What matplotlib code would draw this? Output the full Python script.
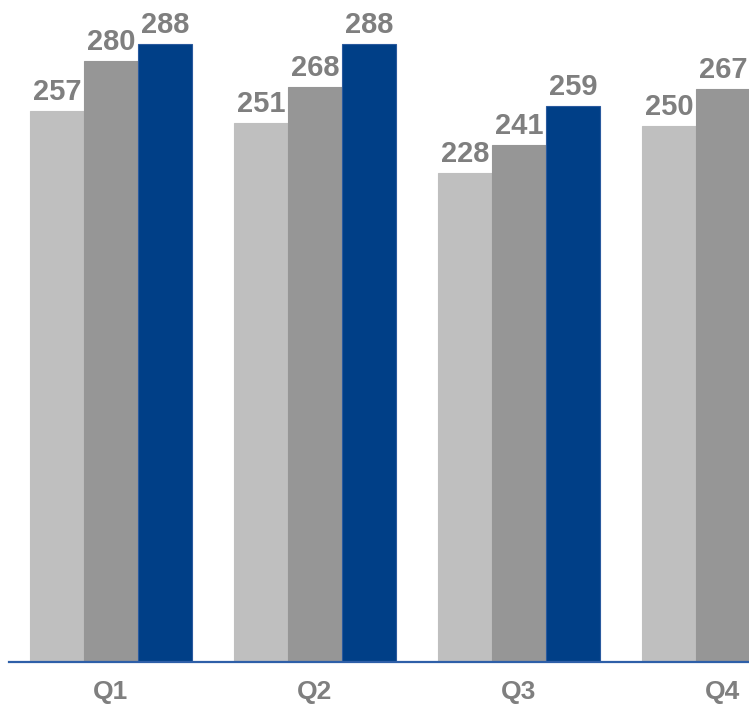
import numpy as np
import matplotlib
matplotlib.use("Agg")
import matplotlib.pyplot as plt

quarters = ["Q1", "Q2", "Q3", "Q4"]
series_a = [257, 251, 228, 250]
series_b = [280, 268, 241, 267]
series_c = [288, 288, 259, np.nan]   # Q4 third bar falls outside the picture

colors = ["#BFBFBF", "#969696", "#003F87"]
label_color = "#7F7F7F"

plt.rcParams["font.family"] = ["Liberation Sans", "DejaVu Sans"]

fig = plt.figure(figsize=(7.49, 7.04), dpi=100)
ax = fig.add_axes([9 / 749, 42 / 704, 740 / 749, 662 / 704])

x = np.arange(len(quarters))
w = 54 / 204

for i, (vals, col) in enumerate(zip([series_a, series_b, series_c], colors)):
    pos = x + (i - 1) * w
    edge = "#2A5A9E" if i == 2 else col
    ax.bar(pos, vals, width=w, color=col, edgecolor=edge, linewidth=0.8)
    for p, v in zip(pos, vals):
        if np.isnan(v):
            continue
        ax.text(p, v + 2.3, f"{v:.0f}", ha="center", va="bottom",
                fontsize=21, fontweight="bold", color=label_color)

ax.set_xlim(-0.5, (749 - 111) / 204)
ax.set_ylim(0, 662 / 2.1458)

for s in ["top", "right", "left"]:
    ax.spines[s].set_visible(False)
ax.spines["bottom"].set_color("#2E5FA8")
ax.spines["bottom"].set_linewidth(1.6)

ax.set_yticks([])
ax.set_xticks(x)
ax.set_xticklabels(quarters, fontsize=19, fontweight="bold", color=label_color)
ax.tick_params(axis="x", length=0, pad=13)

fig.savefig("out.png", dpi=100)
